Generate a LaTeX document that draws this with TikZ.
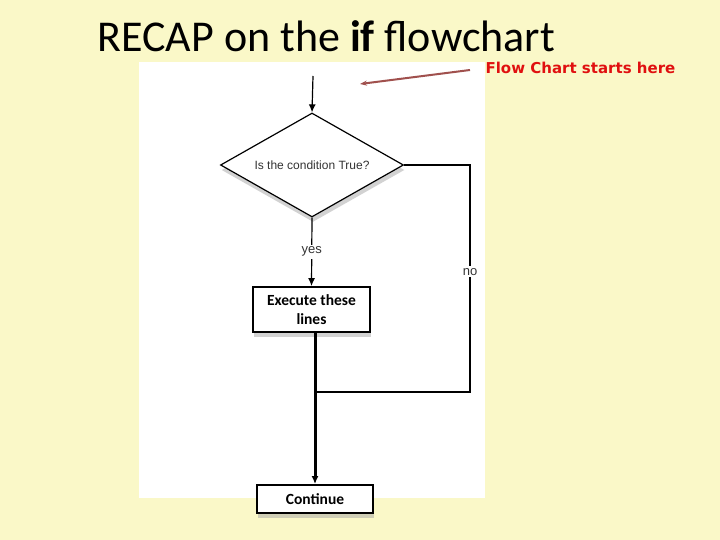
\documentclass[tikz,border=0pt]{standalone}
\usepackage{fontspec}
\setmainfont{Carlito}
\newfontfamily\helv{Liberation Sans}
\newfontfamily\notefont{DejaVu Sans}
\usetikzlibrary{arrows.meta,positioning,shapes.geometric,shadows}
\definecolor{slidebg}{HTML}{FAF8C8}
\definecolor{notered}{HTML}{E01010}
\definecolor{pointer}{HTML}{A0504D}

\begin{document}
\begin{tikzpicture}[x=1pt,y=-1pt,>={Latex[length=8pt,width=7pt]},node distance=20pt,line width=1.2pt]
  \tikzstyle{box}=[draw,line width=1.8pt,fill=white,align=center,inner sep=2pt,font=\bfseries\fontsize{15.5}{19}\selectfont,drop shadow={shadow xshift=1pt,shadow yshift=-5pt,fill=black!35}]
  \tikzstyle{cond}=[diamond,draw,fill=white,aspect=1.76,minimum width=183pt,minimum height=104pt,inner sep=0pt,font=\helv\fontsize{12}{14}\selectfont,text=black!80,drop shadow={shadow xshift=1pt,shadow yshift=-5pt,fill=black!35}]
  \tikzstyle{lbl}=[fill=white,inner sep=2pt,font=\helv\fontsize{13}{15}\selectfont,text=black!80]
  % slide and panel
  \useasboundingbox[fill=slidebg] (0,0) rectangle (720,540);
  \fill[white] (139,62) rectangle (485,498);
  \node[anchor=base west,inner sep=0pt,font=\fontsize{44}{50}\selectfont] (title) at (97,52) {RECAP on the \textbf{if} flowchart};
  \node[anchor=base west,inner sep=0pt,text=notered,font=\notefont\bfseries\fontsize{15}{18}\selectfont] (note) at (485,74) {Flow Chart starts here};
  % chart
  \coordinate (start) at (313,76);
  \node[cond] (test) at (312,165) {Is the condition True?};
  \node[box,minimum width=117pt,minimum height=45pt] (exec) at (311.5,309.5) {Execute these\\lines};
  \node[box,minimum width=116pt,minimum height=28pt] (cont) at (315,499) {Continue};
  \coordinate (noturn) at (470,165);
  \coordinate (join) at (315,392);
  \draw[->] (start) -- (test.north);
  \draw[->] (test.south) -- node[lbl] (yes) {yes} (exec.north);
  \draw (test.east) -- (noturn) -- node[lbl,pos=0.47] (no) {no} (noturn |- join) -- (join);
  \draw[->,line width=3pt] (exec.south -| cont.north) -- (cont.north);
  % pointer
  \coordinate (tail) at (470,70);
  \coordinate (tip) at (360,84);
  \draw[pointer,line width=2pt,-{Stealth[length=7pt,width=5pt]}] (tail) -- (tip);
\end{tikzpicture}
\end{document}
